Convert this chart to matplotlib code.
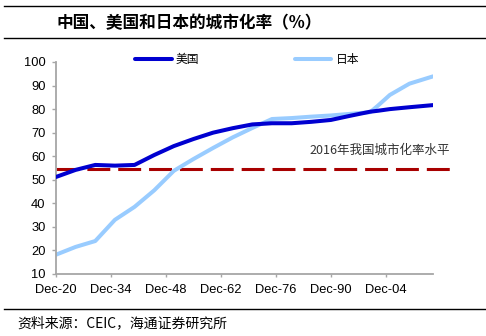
import matplotlib
matplotlib.use("Agg")
import matplotlib.pyplot as plt
from matplotlib.lines import Line2D

plt.rcParams['font.family'] = ['Liberation Sans', 'Noto Sans CJK SC']

# urbanization rate (%)
years = [1920, 1925, 1930, 1935, 1940, 1945, 1950, 1955, 1960, 1965, 1970,
         1975, 1980, 1985, 1990, 1995, 2000, 2002, 2005, 2010, 2016]
usa = [51.2, 54.2, 56.3, 56.0, 56.3, 60.5, 64.3, 67.3, 70.0, 71.9, 73.5,
       74.0, 74.0, 74.6, 75.4, 77.2, 78.9, 79.3, 80.0, 80.8, 81.7]
japan = [18.2, 21.5, 24.0, 33.0, 38.5, 45.5, 53.8, 58.8, 63.5, 68.0, 72.0,
         75.8, 76.2, 76.8, 77.3, 78.0, 78.7, 81.5, 86.0, 90.8, 93.9]
china_2016 = 54.5
ref_span = [1920, 2020.3]

tick_years = [1920, 1934, 1948, 1962, 1976, 1990, 2004]
tick_labels = ['Dec-20', 'Dec-34', 'Dec-48', 'Dec-62', 'Dec-76', 'Dec-90', 'Dec-04']

CJK = ['Noto Sans CJK SC', 'DejaVu Sans']

fig = plt.figure(figsize=(4.86, 3.36), dpi=100)
ax = fig.add_axes([56 / 486, 1 - 274 / 336, (433 - 56) / 486, (274 - 62) / 336])

ax.plot(ref_span, [china_2016, china_2016], color='#A80000', lw=2.2,
        dashes=(7.5, 2.6), solid_capstyle='butt', clip_on=False, zorder=1)
ax.plot(years, usa, color='#0000D0', lw=2.9, solid_capstyle='round',
        label='美国', zorder=3)
ax.plot(years, japan, color='#99CCFF', lw=2.9, solid_capstyle='round',
        label='日本', zorder=2)

ax.set_xlim(1920, 2016)
ax.set_ylim(10, 100)
ax.set_yticks(range(10, 101, 10))
ax.set_xticks(tick_years)
ax.set_xticklabels(tick_labels)

for s in ['top', 'right']:
    ax.spines[s].set_visible(False)
for s in ['left', 'bottom']:
    ax.spines[s].set_color('#A6A6A6')
    ax.spines[s].set_linewidth(1.3)
ax.tick_params(axis='y', length=3, width=1, color='#A6A6A6', labelsize=9.3, pad=4.5)
ax.tick_params(axis='x', length=2.2, width=1, color='#A6A6A6', labelsize=9.3, pad=5)

ax.text(1984.6, 62.6, '2016年我国城市化率水平', fontsize=9, color='#333333',
        va='center', ha='left', family=CJK)

leg = ax.legend(loc='center left', bbox_to_anchor=(135 / 486, 1 - 60 / 336),
                bbox_transform=fig.transFigure, ncol=2, frameon=False,
                borderpad=0, borderaxespad=0, handlelength=3.1,
                handletextpad=0.35, columnspacing=8.1,
                prop={'family': CJK, 'size': 8.5})

# header / footer rules
for yy in [6, 38, 309]:
    fig.add_artist(Line2D([4 / 486, 1], [1 - yy / 336] * 2, color='black', lw=1.0))

fig.text(57 / 486, 1 - 23 / 336, '中国、美国和日本的城市化率（%）', fontsize=12,
         fontweight='bold', family=CJK, va='center', ha='left')
fig.text(17 / 486, 1 - 323 / 336, '资料来源：CEIC，海通证券研究所', fontsize=10,
         family=CJK, va='center', ha='left')

fig.savefig('out.png', dpi=100, facecolor='white')
